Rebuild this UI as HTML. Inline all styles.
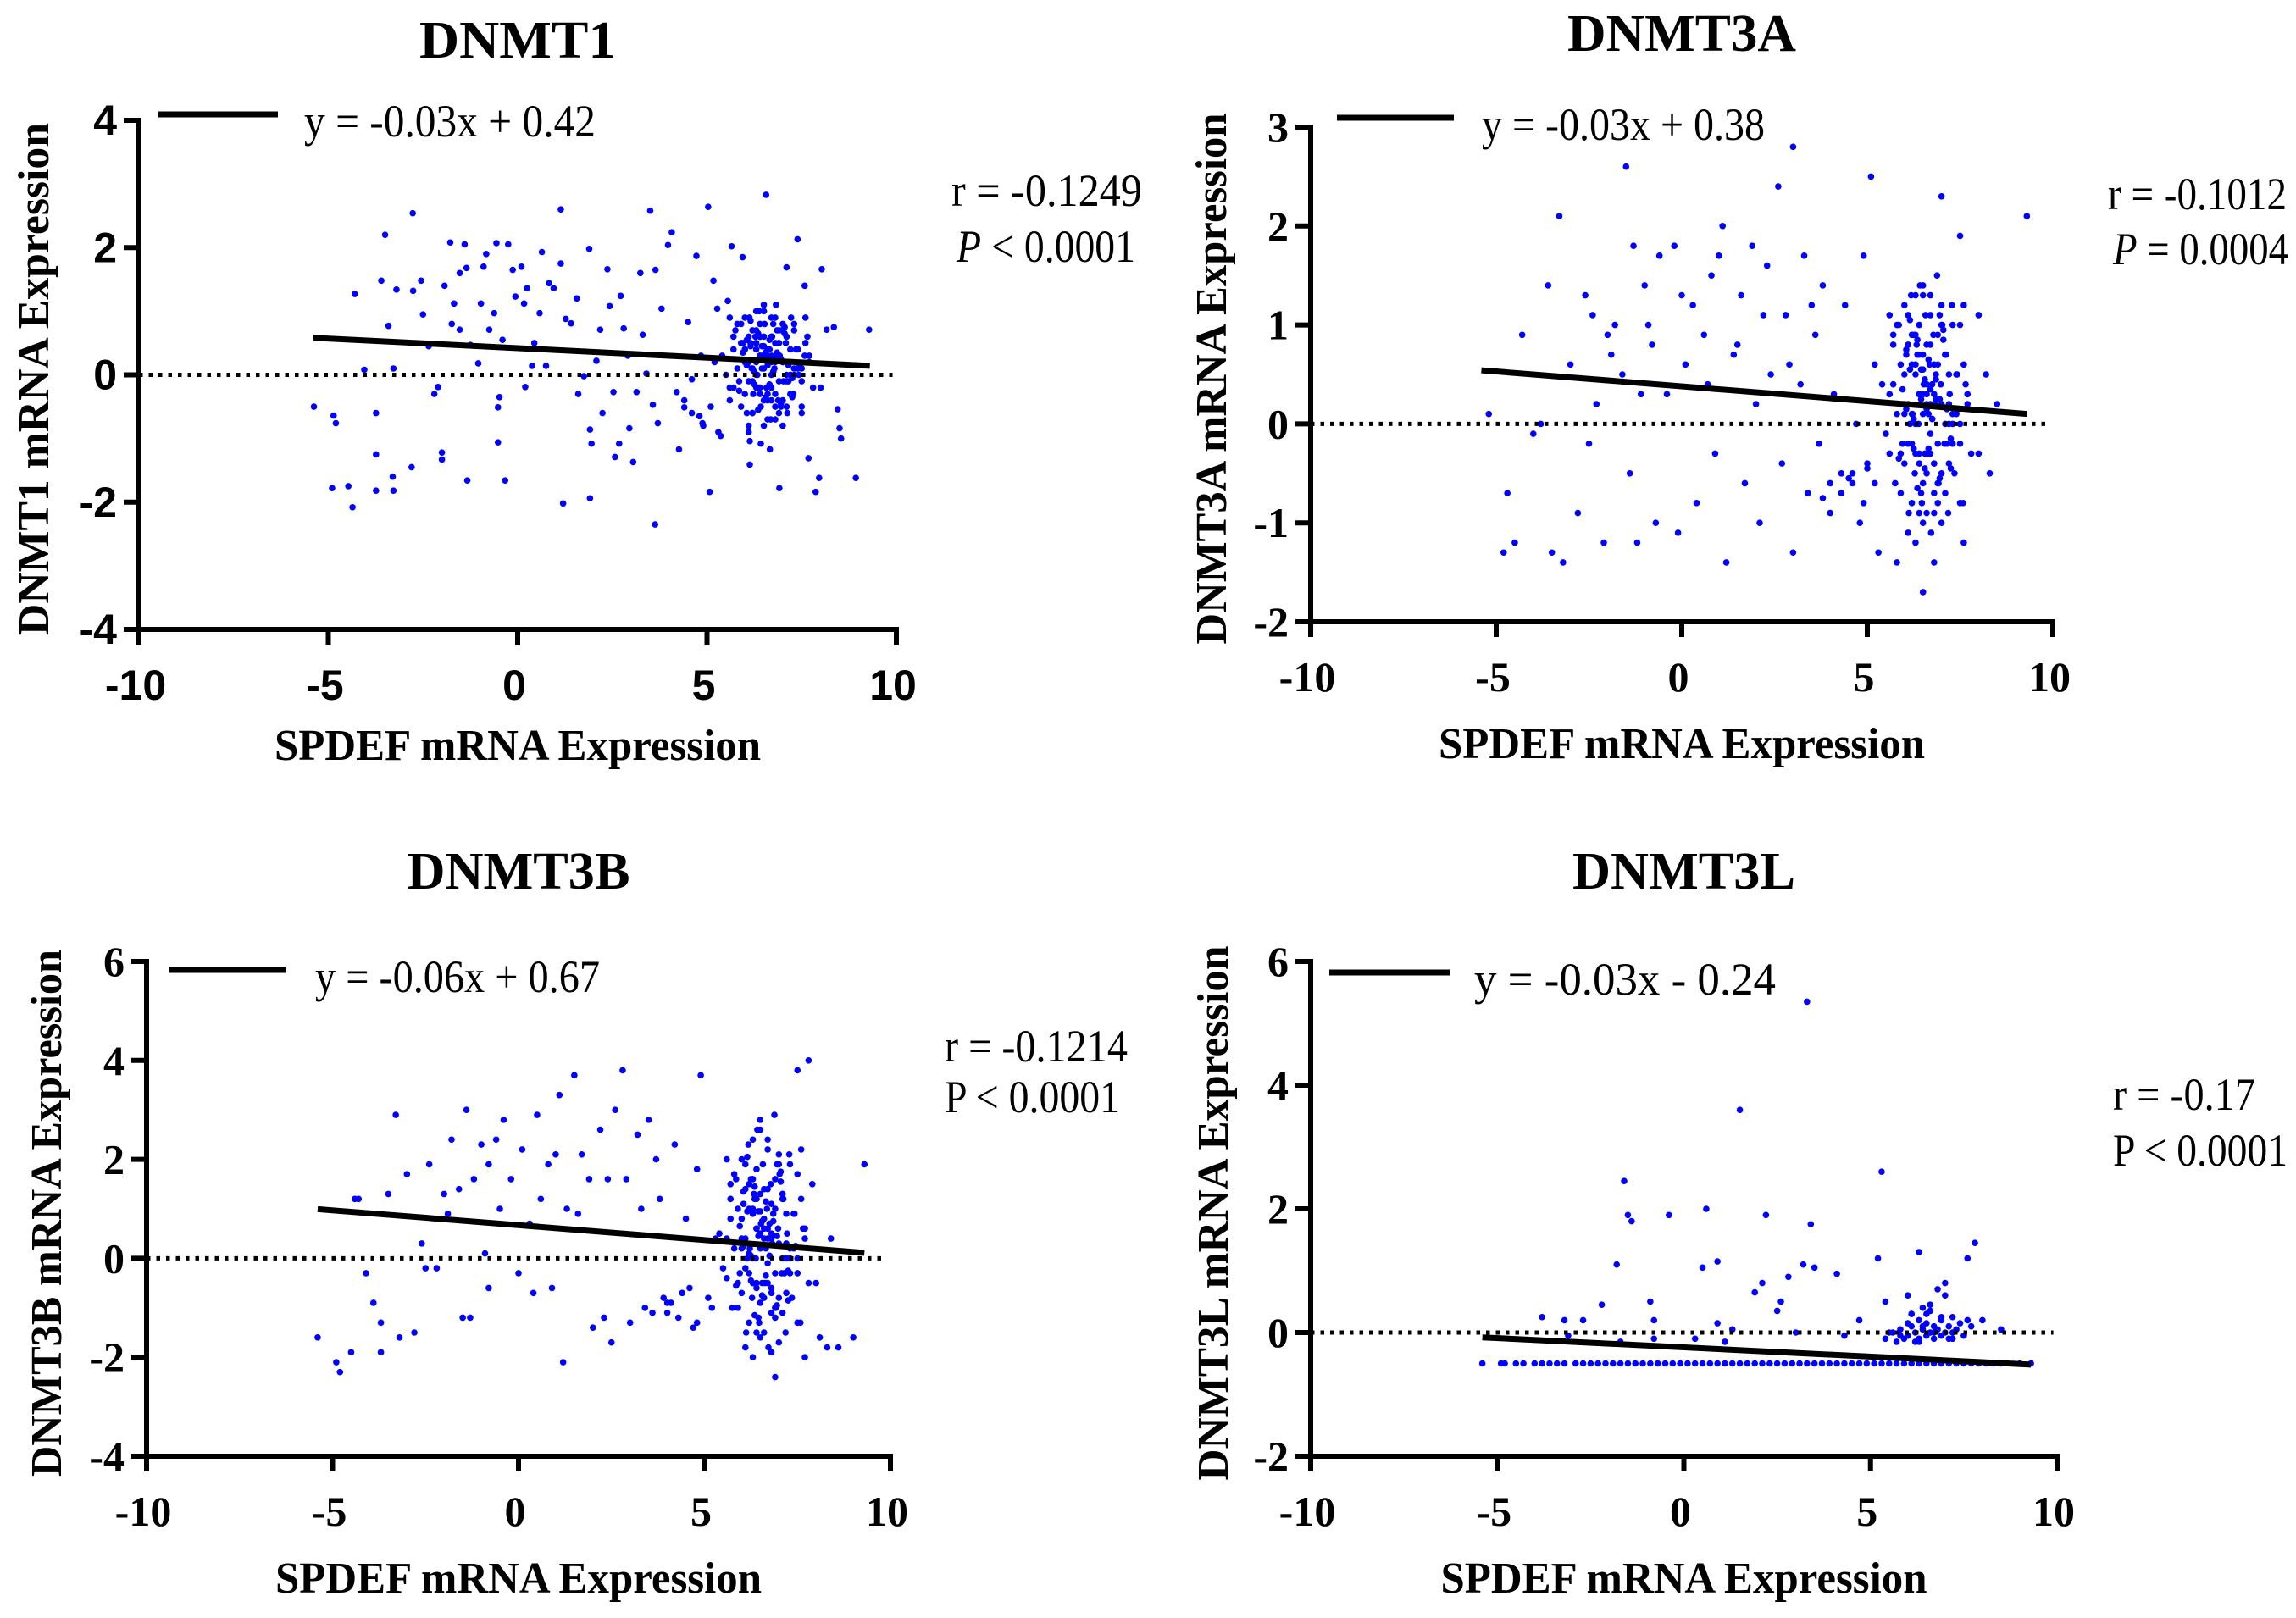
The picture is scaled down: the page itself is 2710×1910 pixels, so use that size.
<!DOCTYPE html>
<html><head><meta charset="utf-8"><style>
html,body{margin:0;padding:0;background:#fff;}
svg{display:block;}
.ser{font-family:"Liberation Serif",serif;}
.san{font-family:"Liberation Sans",sans-serif;}
</style></head>
<body>
<svg id="fig" width="2710" height="1910" viewBox="0 0 2710 1910" xmlns="http://www.w3.org/2000/svg"></svg>
<script>
// ---------- DATA ----------
const xTicks = [-10, -5, 0, 5, 10];
const p1YTicks = [-4, -2, 0, 2, 4];
const p2YTicks = [-2, -1, 0, 1, 2, 3];
const p3YTicks = [-4, -2, 0, 2, 4, 6];
const p4YTicks = [-2, 0, 2, 4, 6];
const p1Fit = [-0.03, 0.42];
const p2Fit = [-0.03, 0.38];
const p3Fit = [-0.06, 0.67];
const p4Fit = [-0.03, -0.24];
const fitRange = [-5.4, 9.3];

const clusterX = [5.6,5.75,5.85,5.95,6.05,6.12,6.18,6.22,6.28,6.33,6.38,6.42,6.47,6.52,6.57,6.62,6.68,6.72,6.78,6.82,6.88,6.92,6.98,7.02,7.08,7.12,7.18,7.22,7.28,7.35,7.42,7.5,7.58,7.65,5.7,5.9,6.1,6.3,6.5,6.7,6.9,7.1,7.3,7.5,6.0,6.2,6.4,6.6,6.8,7.0,7.2,6.15,6.35,6.55,6.75,6.95,6.45,6.65,6.85,6.25];
const p1ClusterY = [0.2,-0.4,0.7,-0.1,0.5,-0.6,0.9,0.1,-0.3,0.6,0.0,1.0,-0.5,0.3,0.8,-0.2,0.4,-0.7,0.6,0.1,1.1,-0.4,0.3,0.7,-0.1,0.5,-0.6,0.2,0.9,-0.3,0.4,0.0,-0.5,0.3,0.6,-0.2,0.8,-0.8,0.2,1.0,-0.4,0.5,-0.1,0.7,0.1,0.4,-0.6,0.6,-0.3,0.9,0.2,0.0,0.5,-0.2,0.3,0.8,-0.5,0.1,0.4,0.7];
const p2ClusterY = [0.3,-0.6,1.0,-0.2,0.7,-0.9,1.3,0.1,-0.5,0.8,0.0,1.4,-0.8,0.4,1.1,-0.3,0.6,-1.1,0.9,0.2,1.5,-0.6,0.4,1.0,-0.2,0.7,-0.9,0.3,1.2,-0.5,0.5,0.0,-0.8,0.4,0.9,-0.3,1.1,-1.2,0.3,1.3,-0.6,0.7,-0.2,1.0,0.1,0.6,-0.9,0.8,-0.4,1.2,0.2,0.0,0.7,-0.3,0.4,1.1,-0.7,0.1,0.5,0.9];
const p3ClusterY = [0.4,-1.0,1.6,-0.3,1.1,-1.5,2.3,0.2,-0.8,1.3,0.0,2.6,-1.3,0.7,1.9,-0.5,1.0,-1.8,1.5,0.3,2.9,-1.0,0.6,1.7,-0.3,1.2,-1.5,0.5,2.1,-0.8,0.9,0.0,-1.3,0.6,1.5,-0.5,1.9,-2.0,0.5,2.4,-1.0,1.2,-0.3,1.7,0.2,1.0,-1.5,1.4,-0.7,2.1,0.3,0.0,1.2,-0.5,0.7,1.9,-1.2,0.2,0.9,1.6];

const p1X = [-5.38,-4.86,-4.8,-4.9,-4.47,-4.36,-4.3,-4.05,-3.74,-3.74,-3.74,-3.6,-3.5,-3.41,-3.28,-3.3,-3.28,-3.2,-2.8,-2.77,-2.76,-2.55,-2.5,-2.35,-2.2,-2.1,-2.0,-2.0,-1.93,-1.78,-1.74,-1.68,-1.53,-1.53,-1.4,-1.35,-1.33,-1.25,-1.04,-0.97,-0.9,-0.83,-0.75,-0.62,-0.56,-0.52,-0.48,-0.52,-0.4,-0.33,-0.25,-0.13,-0.06,0.1,0.17,0.25,0.2,0.38,0.44,0.58,0.64,0.75,0.83,0.95,1.14,1.14,1.2,1.27,1.41,1.56,1.6,1.75,1.89,1.91,1.91,1.95,2.08,2.18,2.24,2.37,2.43,2.53,2.57,2.68,2.72,2.8,2.91,2.95,3.05,3.14,3.24,3.3,3.4,3.5,3.57,3.64,3.63,3.7,3.8,3.97,4.07,4.2,4.26,4.4,4.5,4.6,4.72,4.84,4.88,5.03,5.07,5.17,5.27,5.36,5.55,5.65,5.94,6.13,6.42,6.56,6.66,6.91,7.1,7.39,7.58,7.68,7.87,8.03,8.16,7.96,8.35,8.45,8.5,8.54,8.93,9.28,6.13,
5.4,5.6,5.7,5.8,5.9,6.0,6.0,6.1,6.1,6.2,6.2,6.3,6.3,6.3,6.4,6.4,6.4,6.5,6.5,6.5,6.5,6.6,6.6,6.6,6.7,6.7,6.7,6.8,6.8,6.8,6.9,6.9,7.0,7.0,7.1,7.1,7.2,7.2,7.3,7.4,7.5,7.6,7.7,7.8,5.5,5.8,6.1,6.4,6.7,7.0,7.3,7.6,5.9,6.2,6.5,6.8,7.1,7.4,6.0,6.3,6.6,6.9,7.2,6.1,6.4,6.7,7.0,5.7,6.2,6.6,6.9,7.3,7.7,8.0,5.6,6.0,6.5,7.1,7.5,6.3,6.8,
6.05,6.15,6.25,6.35,6.45,6.55,6.65,6.75,6.85,6.95,7.05,7.15,7.25,5.95,5.85,6.05,6.25,6.45,6.65,6.85,7.05,7.25,7.45,6.15,6.35,6.55,6.75,6.95,7.15,6.5,6.6,6.4,6.7,6.3,6.8,4.6,4.9,5.1,5.3,4.4,4.8,5.2].concat(clusterX);
const p1Y = [-0.5,-0.64,-0.76,-1.78,-1.75,-2.08,1.27,0.08,-0.6,-1.25,-1.82,1.48,2.2,0.77,0.1,-1.6,-1.82,1.34,-1.45,2.54,1.32,1.48,0.95,0.45,-0.3,-0.19,-1.22,-1.33,1.4,2.08,0.8,1.12,0.71,1.6,2.05,1.68,-1.66,0.47,0.18,1.12,1.7,1.9,0.71,0.97,2.07,-0.51,-0.35,-1.06,0.55,-1.66,2.05,1.65,1.23,1.7,1.12,1.36,-0.19,0.14,0.5,0.97,1.93,0.14,1.44,1.36,2.6,1.75,-2.02,0.88,0.81,1.2,-0.3,-0.02,1.98,-0.86,-1.94,-1.08,0.22,0.71,-0.6,1.66,1.08,-0.27,-1.29,-1.08,1.24,0.73,0.3,-0.84,-1.37,-0.27,1.6,0.63,0.02,2.58,-0.47,1.65,-2.35,-0.76,1.04,2.04,2.24,-0.27,-1.17,-0.51,0.83,-0.07,1.87,0.3,-0.76,2.64,-1.84,1.48,1.04,-0.96,1.16,2.02,1.85,-1.04,-1.08,2.83,-1.17,-1.78,1.69,2.13,1.4,-1.31,-1.84,1.66,0.71,-1.62,0.75,-0.54,-0.84,-1.0,-1.62,0.71,-1.41,
0.3,-0.2,0.6,0.1,-0.5,0.4,0.9,-0.1,0.2,0.7,-0.6,0.0,0.5,1.0,-0.3,0.3,0.8,0.1,-0.4,0.6,1.1,0.2,-0.7,0.4,0.0,0.9,-0.2,0.5,-0.5,0.3,0.7,-0.1,0.2,-0.8,0.6,0.0,0.4,-0.3,0.8,0.1,-0.6,0.5,0.2,-0.2,0.0,0.8,-0.9,0.3,0.6,-0.4,0.1,0.9,0.5,-0.1,1.0,0.2,-0.5,0.4,-0.3,0.7,0.3,-0.6,0.0,0.6,-0.2,0.2,0.8,0.4,0.1,-0.4,0.5,0.0,0.3,-0.2,0.9,0.2,-0.8,0.6,-0.1,0.4,-0.3,
0.15,0.45,-0.15,0.65,0.25,-0.35,0.55,0.05,0.35,-0.45,0.75,0.15,-0.05,0.35,-0.25,0.55,0.05,0.45,-0.15,0.25,0.65,-0.35,0.15,0.85,-0.55,0.35,0.05,0.25,-0.1,0.45,0.15,0.6,0.3,-0.2,-0.7,-0.6,-0.8,-0.5,-0.9,-0.4,-0.65].concat(p1ClusterY);

const p2X = [-5.2,-4.8,-4.7,-4.5,-4.3,-4.0,-3.8,-3.6,-3.5,-3.3,-3.2,-3.0,-2.8,-2.6,-2.5,-2.3,-2.1,-2.0,-1.8,-1.6,-1.5,-1.4,-1.3,-1.2,-1.0,-0.8,-0.7,-0.6,-0.4,-0.2,-0.1,0.1,0.3,0.4,0.6,0.8,0.9,1.1,1.2,1.4,1.6,1.7,1.9,2.0,2.1,2.3,2.4,2.6,2.7,2.8,3.0,3.0,3.2,3.3,3.4,3.6,3.7,3.8,4.0,4.1,4.3,4.4,4.6,4.7,4.8,4.9,5.1,5.0,5.2,5.3,7.0,7.5,8.0,8.3,9.3,6.5,6.8,7.6,5.8,-2.4,-1.9,-0.9,0.0,0.7,1.5,2.2,2.9,3.5,1.0,-1.1,
5.4,5.6,5.7,5.8,5.9,6.0,6.0,6.1,6.1,6.2,6.2,6.3,6.3,6.3,6.4,6.4,6.4,6.5,6.5,6.5,6.5,6.6,6.6,6.6,6.7,6.7,6.7,6.8,6.8,6.8,6.9,6.9,7.0,7.0,7.1,7.1,7.2,7.2,7.3,7.4,7.5,7.6,7.7,7.8,5.5,5.8,6.1,6.4,6.7,7.0,7.3,7.6,5.9,6.2,6.5,6.8,7.1,7.4,6.0,6.3,6.6,6.9,7.2,6.1,6.4,6.7,7.0,5.7,6.2,6.6,6.9,7.3,7.7,8.0,5.6,6.0,6.5,7.1,7.5,6.3,6.8,
6.05,6.15,6.25,6.35,6.45,6.55,6.65,6.75,6.85,6.95,7.05,7.15,7.25,5.95,5.85,6.05,6.25,6.45,6.65,6.85,7.05,7.25,7.45,6.15,6.35,6.55,6.75,6.95,7.15,6.5,6.6,6.4,6.7,6.3,6.8,4.0,4.3,4.6,4.9,5.2,3.8,4.5,5.0,8.2,8.5].concat(clusterX);
const p2Y = [0.1,-1.3,-0.7,-1.2,0.9,-0.1,0.0,1.4,-1.3,2.1,-1.4,0.6,-0.9,1.3,-0.2,0.2,-1.2,0.9,1.0,0.5,2.6,-0.5,1.8,-1.2,1.4,0.8,-1.0,1.7,0.3,1.8,-1.1,0.6,1.2,-0.8,0.9,1.5,-0.3,2.0,-1.4,0.7,1.3,-0.6,1.8,0.2,-1.0,1.6,0.5,2.4,-0.4,1.1,2.8,-1.3,0.4,1.7,-0.7,0.9,-0.2,1.4,-0.9,0.3,-0.5,1.2,-0.6,0.0,-1.0,1.7,2.5,-0.4,0.6,-1.3,2.3,1.9,1.1,-0.5,2.1,-1.7,-1.4,-1.2,-1.4,1.1,0.7,1.0,1.3,0.4,0.8,1.1,0.6,1.2,1.7,0.3,
0.4,-0.3,0.8,0.1,-0.7,0.5,1.2,-0.2,0.2,0.9,-0.8,0.0,0.6,1.3,-0.4,0.3,1.0,0.1,-0.6,0.7,1.4,0.2,-0.9,0.4,-0.1,1.1,-0.3,0.6,-0.7,0.3,0.9,-0.2,0.2,-1.0,0.7,0.0,0.5,-0.4,1.0,0.1,-0.8,0.6,0.2,-0.3,-0.1,1.0,-1.1,0.3,0.8,-0.5,0.1,1.2,0.6,-0.2,1.3,0.2,-0.7,0.5,-0.4,0.9,0.3,-0.8,0.0,0.8,-0.3,0.2,1.0,0.4,0.1,-0.5,0.6,0.0,0.3,-0.3,1.1,0.2,-1.0,0.7,-0.2,0.5,-0.4,
0.15,0.55,-0.25,0.85,0.25,-0.45,0.65,0.05,0.45,-0.55,0.95,0.15,-0.15,0.35,-0.35,0.75,0.05,0.55,-0.25,0.25,0.85,-0.45,0.15,1.05,-0.65,0.45,0.05,0.25,-0.2,0.55,0.15,0.7,0.35,-0.3,-0.9,-0.6,-0.7,-0.5,-0.8,-0.6,-0.75,-0.55,-0.45,0.5,0.2].concat(p2ClusterY);

const p3X = [-5.4,-4.9,-4.8,-4.5,-4.4,-4.1,-3.7,-3.7,-3.5,-3.3,-3.2,-3.0,-2.8,-2.6,-2.4,-2.2,-2.0,-1.9,-1.8,-1.6,-1.4,-1.3,-1.2,-1.0,-0.9,-0.8,-0.6,-0.5,-0.4,-0.2,0.0,0.1,0.3,0.5,0.6,0.8,1.0,1.1,1.2,1.3,1.5,1.7,1.9,2.0,2.2,2.4,2.5,2.6,2.8,2.9,3.0,3.2,3.3,3.5,3.7,3.8,4.0,4.2,4.3,4.5,4.7,4.8,4.9,5.1,5.3,7.7,7.9,8.3,8.6,9.0,9.3,7.5,6.9,7.8,-3.9,-2.5,-1.5,0.4,1.6,2.3,-0.8,0.9,3.4,4.1,-4.3,
5.4,5.6,5.7,5.8,5.9,6.0,6.0,6.1,6.1,6.2,6.2,6.3,6.3,6.3,6.4,6.4,6.4,6.5,6.5,6.5,6.5,6.6,6.6,6.6,6.7,6.7,6.7,6.8,6.8,6.8,6.9,6.9,7.0,7.0,7.1,7.1,7.2,7.2,7.3,7.4,7.5,7.6,7.7,7.8,5.5,5.8,6.1,6.4,6.7,7.0,7.3,7.6,5.9,6.2,6.5,6.8,7.1,7.4,6.0,6.3,6.6,6.9,7.2,6.1,6.4,6.7,7.0,5.7,6.2,6.6,6.9,7.3,7.7,8.0,5.6,6.0,6.5,7.1,7.5,6.3,6.8,
6.05,6.15,6.25,6.35,6.45,6.55,6.65,6.75,6.85,6.95,7.05,7.15,7.25,5.95,5.85,6.05,6.25,6.45,6.65,6.85,7.05,7.25,7.45,6.15,6.35,6.55,6.75,6.95,7.15,6.5,6.6,6.4,6.7,6.3,6.8,3.6,4.0,4.4,4.8,5.2,3.9,4.6,8.1,8.4].concat(clusterX);
const p3Y = [-1.6,-2.1,-2.3,-1.9,1.2,-0.3,-1.3,-1.9,1.3,2.9,-1.6,1.7,-1.5,0.3,1.9,-0.2,1.3,0.9,2.4,1.4,3.0,-1.2,1.6,2.3,0.1,1.9,2.4,1.0,2.8,1.6,-0.3,2.2,0.7,2.9,1.2,1.9,2.1,3.3,-2.1,1.0,3.7,2.1,1.6,-1.4,2.6,1.6,-1.7,3.0,3.8,1.6,-1.3,2.5,1.0,2.8,2.0,1.2,-1.1,2.3,-1.2,0.8,-1.4,1.8,3.7,-0.8,0.4,-2.0,1.5,-1.8,-1.8,-1.6,1.9,3.8,-2.4,4.0,-0.9,-0.2,-1.2,-0.7,0.9,-1.2,-0.6,-0.6,-1.0,-0.9,1.2,
0.5,-0.4,1.2,0.2,-1.0,0.8,2.0,-0.2,0.4,1.5,-1.3,0.0,1.0,2.4,-0.6,0.6,1.8,0.2,-0.9,1.3,2.8,0.4,-1.5,0.8,-0.1,2.2,-0.5,1.1,-1.1,0.5,1.6,-0.3,0.3,-1.7,1.3,0.0,0.9,-0.7,1.9,0.2,-1.3,1.2,0.4,-0.5,-0.2,1.7,-1.8,0.6,1.4,-0.8,0.2,2.2,1.0,-0.3,2.6,0.4,-1.1,0.9,-0.7,1.6,0.6,-1.2,0.0,1.4,-0.5,0.4,1.9,0.8,0.1,-0.8,1.0,0.0,0.6,-0.5,2.0,0.4,-1.6,1.3,-0.3,0.9,-0.6,
0.25,0.95,-0.45,1.45,0.45,-0.75,1.15,0.05,0.75,-0.95,1.75,0.25,-0.25,0.65,-0.55,1.35,0.05,0.95,-0.35,0.45,1.55,-0.85,0.25,2.05,-1.15,0.75,0.05,0.45,-0.3,0.95,0.25,1.2,0.6,-0.5,-1.9,-1.1,-0.9,-0.7,-1.3,-1.0,-0.8,-0.6,-1.6,0.4].concat(p3ClusterY);

const p4X = [-3.8,-3.2,-2.7,-2.2,-1.8,-1.6,-1.5,-1.4,-0.9,-0.8,-0.4,-0.8,0.5,0.6,0.9,0.9,1.3,1.5,1.9,2.1,2.2,2.5,2.6,2.8,3.2,3.3,3.4,3.5,4.1,4.7,5.2,5.3,5.4,7.6,7.8,6.3,-3.1,-1.7,0.3,1.1,3.0,4.3,
5.4,5.6,5.7,5.8,5.9,6.0,6.0,6.1,6.1,6.2,6.2,6.3,6.3,6.4,6.4,6.5,6.5,6.5,6.6,6.6,6.7,6.7,6.8,6.8,6.9,6.9,7.0,7.0,7.1,7.1,7.2,7.2,7.3,7.4,7.5,7.6,7.7,8.0,8.5,6.0,6.3,6.6,6.9,7.2,6.1,6.4,6.7,7.0,5.5,5.8];
const p4Y = [0.25,0.2,0.2,0.45,1.1,2.45,1.9,1.8,0.5,0.2,1.9,-0.1,1.05,2.0,1.15,0.15,0.05,3.6,0.65,0.8,1.9,0.35,0.5,0.9,1.1,5.35,1.75,1.05,0.95,0.2,1.2,2.6,0.5,1.2,1.45,1.3,-0.05,-0.15,-0.1,-0.15,0.0,-0.05,
-0.1,0.0,-0.15,0.05,-0.1,0.15,-0.05,0.1,0.3,-0.15,0.0,0.2,-0.1,0.05,0.4,-0.05,0.15,0.3,0.0,0.35,-0.1,0.1,0.05,0.7,0.2,-0.05,0.0,0.8,0.1,-0.1,0.25,0.0,0.05,0.15,-0.05,0.2,0.1,0.2,0.05,0.6,-0.15,0.45,0.25,-0.1,0.3,0.1,0.0,0.6,0.0,-0.05];
const p4RowX = [-5.4,-4.9,-4.8,-4.5,-4.3,-4.0,-3.8,-3.6,-3.4,-3.2,-2.9,-2.7,-2.5,-2.3,-2.1,-1.9,-1.7,-1.5,-1.3,-1.1,-0.9,-0.7,-0.5,-0.3,-0.1,0.1,0.3,0.5,0.7,0.9,1.1,1.3,1.5,1.7,1.9,2.1,2.3,2.5,2.7,2.9,3.1,3.3,3.5,3.7,3.9,4.1,4.3,4.5,4.7,4.9,5.1,5.3,5.5,5.7,5.9,6.1,6.3,6.5,6.7,6.9,7.1,7.3,7.5,7.7,7.9,8.1,8.3,8.5,9.0,9.3];
const p4RowLevel = [-0.5];

// ---------- DRAW ----------
const NS = "http://www.w3.org/2000/svg";
const svg = document.getElementById("fig");
function mk(tag, attrs, parent) {
  const e = document.createElementNS(NS, tag);
  for (const k in attrs) e.setAttribute(k, attrs[k]);
  (parent || svg).appendChild(e);
  return e;
}

const panels = [
  {id:"dnmt1", title:"DNMT1", titleW:232, ax:164, x10:1058, yTop:142, yBot:743, yMin:-4, yMax:4, yTicks:p1YTicks, sans:true,
   xs:p1X, ys:p1Y, fit:p1Fit, titleY:68, legY:135, legX1:187, legX2:328, legTX:359, legTW:344,
   rX:1123, rY:243, pY:309, rW:225, pW:211, rText:"r = -0.1249", pItalic:true, pRest:" < 0.0001", xtY:822, xtitleY:897, ytitleX:40, ytitleW:605},
  {id:"dnmt3a", title:"DNMT3A", titleW:270, ax:1547, x10:2423, yTop:150, yBot:734, yMin:-2, yMax:3, yTicks:p2YTicks, sans:false,
   xs:p2X, ys:p2Y, fit:p2Fit, titleY:60, legY:139, legX1:1578, legX2:1716, legTX:1749, legTW:334,
   rX:2488, rY:247, pY:312, rW:211, pW:207, rText:"r = -0.1012", pItalic:true, pRest:" = 0.0004", xtY:812, xtitleY:895, ytitleX:1430, ytitleW:627},
  {id:"dnmt3b", title:"DNMT3B", titleW:263, ax:173, x10:1051, yTop:1135, yBot:1719, yMin:-4, yMax:6, yTicks:p3YTicks, sans:false,
   xs:p3X, ys:p3Y, fit:p3Fit, titleY:1049, legY:1145, legX1:200, legX2:337, legTX:372, legTW:336,
   rX:1115, rY:1253, pY:1313, rW:216, pW:207, rText:"r = -0.1214", pItalic:false, pRest:"P < 0.0001", xtY:1797, xtitleY:1880, ytitleX:55, ytitleW:622},
  {id:"dnmt3l", title:"DNMT3L", titleW:263, ax:1547, x10:2428, yTop:1135, yBot:1719, yMin:-2, yMax:6, yTicks:p4YTicks, sans:false,
   xs:p4X, ys:p4Y, fit:p4Fit, titleY:1049, legY:1148, legX1:1569, legX2:1711, legTX:1740, legTW:356,
   rX:2494, rY:1310, pY:1376, rW:168, pW:206, rText:"r = -0.17", pItalic:false, pRest:"P < 0.0001", xtY:1797, xtitleY:1880, ytitleX:1432, ytitleW:631}
];

panels.forEach(function(p) {
  const g = mk("g", {});
  
  
  const sx = v => p.ax + (v + 10) / 20 * (p.x10 - p.ax);
  const sy = v => p.yBot - (v - p.yMin) / (p.yMax - p.yMin) * (p.yBot - p.yTop);
  const tickFont = p.sans ? "san" : "ser";

  const t = mk("text", {x:(p.ax + p.x10)/2, y:p.titleY, "text-anchor":"middle", "font-size":62, "font-weight":"bold", class:"ser", textLength:p.titleW, lengthAdjust:"spacingAndGlyphs"}, g);
  t.textContent = p.title;
  
  

  const pts = mk("g", {fill:"#0000ff"}, g);
  
  
  const n = Math.min(p.xs.length, p.ys.length);
  for (let i = 0; i < n; i++) {
    const c = mk("circle", {cx:sx(p.xs[i]), cy:sy(p.ys[i]), r:3.8}, pts);
    
    
  }
  if (p.id === "dnmt3l") {
    for (let i = 0; i < p4RowX.length; i++) {
      const c = mk("circle", {cx:sx(p4RowX[i]), cy:sy(p4RowLevel[0]), r:3.8}, pts);
      
      
    }
  }

  const z = mk("line", {x1:p.ax, x2:sx(9.9), y1:sy(0), y2:sy(0), stroke:"#000", "stroke-width":5, "stroke-dasharray":"4.5 7"}, g);
  
  

  const f = mk("line", {x1:sx(fitRange[0]), x2:sx(fitRange[1]), y1:sy(p.fit[0]*fitRange[0]+p.fit[1]), y2:sy(p.fit[0]*fitRange[1]+p.fit[1]), stroke:"#000", "stroke-width":7}, g);
  
  

  const ya = mk("line", {x1:p.ax, x2:p.ax, y1:p.yTop - 3, y2:p.yBot + 3, stroke:"#000", "stroke-width":6}, g);
  
  
  const xa = mk("line", {x1:p.ax - 3, x2:p.x10 + 3, y1:p.yBot, y2:p.yBot, stroke:"#000", "stroke-width":6}, g);
  
  

  p.yTicks.forEach(function(v) {
    const l = mk("line", {x1:p.ax - 18, x2:p.ax, y1:sy(v), y2:sy(v), stroke:"#000", "stroke-width":6}, g);
    
    
    const tt = mk("text", {x:p.ax - 26, y:sy(v) + 17, "text-anchor":"end", "font-size":50, "font-weight":"bold", class:tickFont}, g);
    tt.textContent = v;
    
    
  });
  xTicks.forEach(function(v) {
    const l = mk("line", {x1:sx(v), x2:sx(v), y1:p.yBot, y2:p.yBot + 18, stroke:"#000", "stroke-width":6}, g);
    
    
    const tt = mk("text", {x:sx(v) - 4, y:p.xtY + 4, "text-anchor":"middle", "font-size":50, "font-weight":"bold", class:tickFont}, g);
    tt.textContent = v;
    
    
  });

  const xt = mk("text", {x:(p.ax + p.x10)/2, y:p.xtitleY, "text-anchor":"middle", "font-size":52, "font-weight":"bold", class:"ser", textLength:574, lengthAdjust:"spacingAndGlyphs"}, g);
  xt.textContent = "SPDEF mRNA Expression";
  
  
  const ycy = (p.yTop + p.yBot) / 2 + 5;
  const yt = mk("text", {x:p.ytitleX, y:ycy, "text-anchor":"middle", "font-size":52, "font-weight":"bold", class:"ser", textLength:p.ytitleW, lengthAdjust:"spacingAndGlyphs", transform:"rotate(-90 " + p.ytitleX + " " + ycy + ") translate(0 17)"}, g);
  yt.textContent = p.title + " mRNA Expression";
  
  

  const lg = mk("g", {}, g);
  
  
  mk("line", {x1:p.legX1, x2:p.legX2, y1:p.legY, y2:p.legY, stroke:"#000", "stroke-width":7}, lg);
  const lt = mk("text", {x:p.legTX, y:p.legY + 26, "font-size":54, class:"ser", textLength:p.legTW, lengthAdjust:"spacingAndGlyphs"}, lg);
  const b = p.fit[1] >= 0 ? " + " + p.fit[1].toFixed(2) : " -  " + Math.abs(p.fit[1]).toFixed(2);
  lt.textContent = "y = " + p.fit[0].toFixed(2) + "x" + b;

  const rt = mk("text", {x:p.rX, y:p.rY, "font-size":54, class:"ser", textLength:p.rW, lengthAdjust:"spacingAndGlyphs"}, g);
  rt.textContent = p.rText;
  
  
  const pt = mk("text", {x:p.rX + (p.pItalic ? 6 : 0), y:p.pY, "font-size":54, class:"ser", textLength:p.pW, lengthAdjust:"spacingAndGlyphs"}, g);
  if (p.pItalic) {
    const ts = mk("tspan", {"font-style":"italic"}, pt);
    ts.textContent = "P";
    const ts2 = mk("tspan", {}, pt);
    ts2.textContent = p.pRest;
  } else {
    pt.textContent = p.pRest;
  }
  
  
});
</script>
</body></html>
